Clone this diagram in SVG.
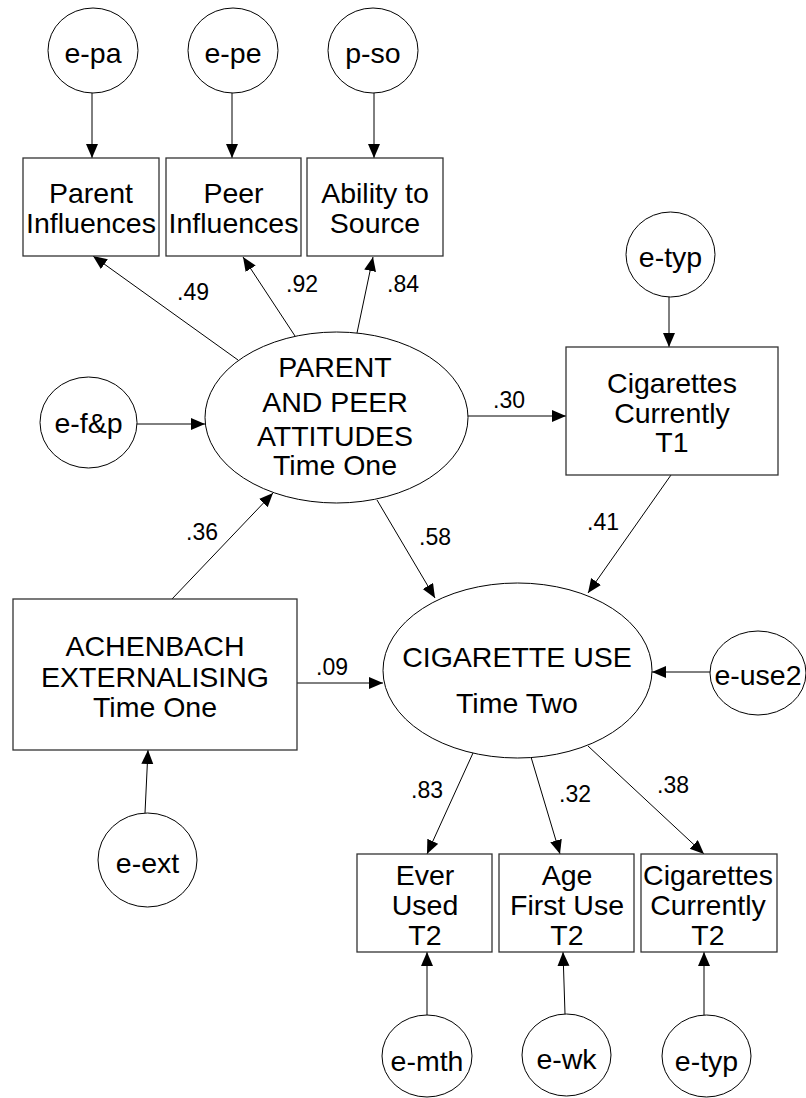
<svg xmlns="http://www.w3.org/2000/svg" width="806" height="1098" viewBox="0 0 806 1098">
  <style>
    .box { fill: #fff; stroke: #333; stroke-width: 1.3; }
    .oval { fill: #fff; stroke: #000; stroke-width: 1; }
    .lbl { font-family: "Liberation Sans", Arial, sans-serif; font-size: 28.5px; fill: #000; text-anchor: middle; }
    .coef { font-family: "Liberation Sans", Arial, sans-serif; font-size: 23px; fill: #000; text-anchor: middle; }
    .edge { stroke: #000; stroke-width: 1; fill: none; marker-end: url(#arrow); }
  </style>
  <defs>
    <marker id="arrow" markerUnits="userSpaceOnUse" markerWidth="15" markerHeight="13" refX="14" refY="6" orient="auto">
      <path d="M0,0 L14,6 L0,12 z" fill="#000"/>
    </marker>
  </defs>
  <rect width="806" height="1098" fill="#fff"/>

  <!-- paths between variables -->
  <g id="connectors">
    <line class="edge" x1="92" y1="93" x2="92" y2="158"/>
    <line class="edge" x1="232" y1="93" x2="232" y2="158"/>
    <line class="edge" x1="374" y1="93" x2="374" y2="158"/>
    <line class="edge" x1="238" y1="360" x2="93" y2="256"/>
    <line class="edge" x1="295" y1="336" x2="243" y2="257"/>
    <line class="edge" x1="357" y1="333" x2="373" y2="257"/>
    <line class="edge" x1="137" y1="424" x2="205" y2="424"/>
    <line class="edge" x1="468" y1="416" x2="566" y2="416"/>
    <line class="edge" x1="669" y1="297" x2="669" y2="347"/>
    <line class="edge" x1="671" y1="475" x2="588" y2="593"/>
    <line class="edge" x1="377" y1="500" x2="435" y2="598"/>
    <line class="edge" x1="172" y1="599" x2="273" y2="493"/>
    <line class="edge" x1="297" y1="683" x2="383" y2="683"/>
    <line class="edge" x1="145" y1="813" x2="148" y2="750"/>
    <line class="edge" x1="710" y1="672" x2="652" y2="672"/>
    <line class="edge" x1="473" y1="753" x2="427" y2="854"/>
    <line class="edge" x1="531" y1="757" x2="560" y2="854"/>
    <line class="edge" x1="588" y1="746" x2="704" y2="854"/>
    <line class="edge" x1="427" y1="1015" x2="427" y2="952"/>
    <line class="edge" x1="565" y1="1014" x2="563" y2="952"/>
    <line class="edge" x1="704" y1="1015" x2="704" y2="952"/>
    <!-- path coefficients -->
    <text class="coef" x="193" y="300">.49</text>
    <text class="coef" x="302" y="292">.92</text>
    <text class="coef" x="403" y="292">.84</text>
    <text class="coef" x="509" y="408">.30</text>
    <text class="coef" x="603" y="530">.41</text>
    <text class="coef" x="202" y="540">.36</text>
    <text class="coef" x="435" y="545">.58</text>
    <text class="coef" x="332" y="675">.09</text>
    <text class="coef" x="427" y="798">.83</text>
    <text class="coef" x="575" y="802">.32</text>
    <text class="coef" x="673" y="793">.38</text>
  </g>

  <!-- error terms, top row -->
  <g id="e-pa">
    <ellipse class="oval" cx="93" cy="50.5" rx="45" ry="42.5"/>
    <text class="lbl" x="93" y="63">e-pa</text>
  </g>
  <g id="e-pe">
    <ellipse class="oval" cx="233" cy="50.5" rx="45" ry="42.5"/>
    <text class="lbl" x="233" y="63">e-pe</text>
  </g>
  <g id="p-so">
    <ellipse class="oval" cx="373" cy="50.5" rx="45" ry="42.5"/>
    <text class="lbl" x="373" y="63">p-so</text>
  </g>

  <!-- indicators of parent and peer attitudes -->
  <g id="parent-influences">
    <rect class="box" x="23" y="158" width="136" height="98"/>
    <text class="lbl" x="91" y="203">Parent</text>
    <text class="lbl" x="91" y="233">Influences</text>
  </g>
  <g id="peer-influences">
    <rect class="box" x="166" y="158" width="135" height="98"/>
    <text class="lbl" x="233.5" y="203">Peer</text>
    <text class="lbl" x="233.5" y="233">Influences</text>
  </g>
  <g id="ability-to-source">
    <rect class="box" x="307" y="158" width="136" height="98"/>
    <text class="lbl" x="375" y="203">Ability to</text>
    <text class="lbl" x="375" y="233">Source</text>
  </g>

  <g id="e-typ-t1">
    <ellipse class="oval" cx="670.5" cy="254.5" rx="44.5" ry="42.5"/>
    <text class="lbl" x="670.5" y="267">e-typ</text>
  </g>

  <g id="parent-peer-attitudes">
    <ellipse class="oval" cx="336.5" cy="417.5" rx="131.5" ry="85.5"/>
    <text class="lbl" x="335" y="377">PARENT</text>
    <text class="lbl" x="335" y="412">AND PEER</text>
    <text class="lbl" x="335" y="446">ATTITUDES</text>
    <text class="lbl" x="335" y="475">Time One</text>
  </g>

  <g id="e-fp">
    <ellipse class="oval" cx="88.5" cy="422.5" rx="48.5" ry="45.5"/>
    <text class="lbl" x="88.5" y="433">e-f&amp;p</text>
  </g>

  <g id="cigarettes-t1">
    <rect class="box" x="566" y="347" width="212" height="128"/>
    <text class="lbl" x="672" y="393">Cigarettes</text>
    <text class="lbl" x="672" y="423">Currently</text>
    <text class="lbl" x="672" y="452">T1</text>
  </g>

  <g id="achenbach">
    <rect class="box" x="13" y="599" width="284" height="151"/>
    <text class="lbl" x="155" y="656">ACHENBACH</text>
    <text class="lbl" x="155" y="687">EXTERNALISING</text>
    <text class="lbl" x="155" y="717">Time One</text>
  </g>

  <g id="cigarette-use">
    <ellipse class="oval" cx="517.5" cy="670.5" rx="134.5" ry="87.5"/>
    <text class="lbl" x="517" y="667">CIGARETTE USE</text>
    <text class="lbl" x="517" y="713">Time Two</text>
  </g>

  <g id="e-use2">
    <ellipse class="oval" cx="758" cy="673" rx="48" ry="42"/>
    <text class="lbl" x="758" y="685">e-use2</text>
  </g>

  <g id="e-ext">
    <ellipse class="oval" cx="147.5" cy="860" rx="49.5" ry="47"/>
    <text class="lbl" x="147.5" y="873">e-ext</text>
  </g>

  <!-- indicators of cigarette use -->
  <g id="ever-used">
    <rect class="box" x="357" y="854" width="135" height="98"/>
    <text class="lbl" x="425" y="885">Ever</text>
    <text class="lbl" x="425" y="915">Used</text>
    <text class="lbl" x="425" y="945">T2</text>
  </g>
  <g id="age-first-use">
    <rect class="box" x="499" y="854" width="135" height="98"/>
    <text class="lbl" x="567" y="885">Age</text>
    <text class="lbl" x="567" y="915">First Use</text>
    <text class="lbl" x="567" y="945">T2</text>
  </g>
  <g id="cigarettes-t2">
    <rect class="box" x="641" y="854" width="136" height="98"/>
    <text class="lbl" x="708" y="885">Cigarettes</text>
    <text class="lbl" x="708" y="915">Currently</text>
    <text class="lbl" x="708" y="945">T2</text>
  </g>

  <g id="e-mth">
    <ellipse class="oval" cx="427" cy="1056" rx="45" ry="41"/>
    <text class="lbl" x="427" y="1071">e-mth</text>
  </g>
  <g id="e-wk">
    <ellipse class="oval" cx="566.5" cy="1055" rx="44.5" ry="41"/>
    <text class="lbl" x="566.5" y="1069">e-wk</text>
  </g>
  <g id="e-typ-t2">
    <ellipse class="oval" cx="706.5" cy="1056" rx="44.5" ry="41"/>
    <text class="lbl" x="706.5" y="1071">e-typ</text>
  </g>
</svg>
